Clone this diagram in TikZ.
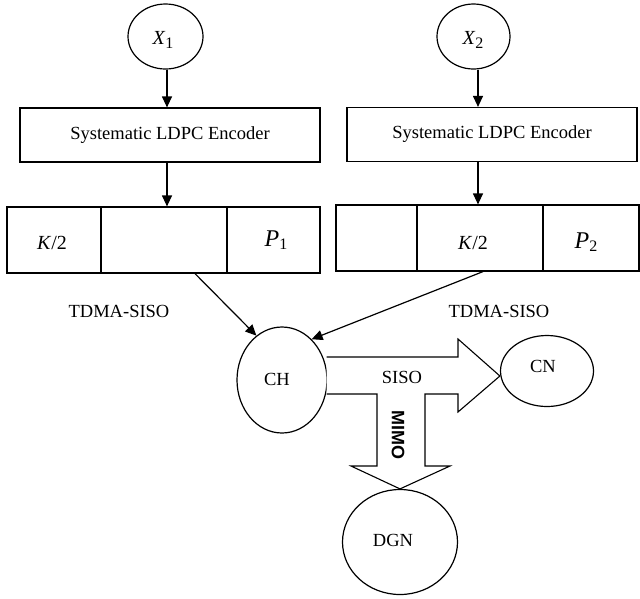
\documentclass[tikz,border=0pt]{standalone}
\usepackage{fontspec}
\setmainfont{Liberation Serif}
\newfontfamily\mimofont{Liberation Sans}
\usetikzlibrary{arrows.meta,shapes.geometric}
\newcommand\lowsub[1]{\raisebox{-0.4ex}{\fontsize{16}{18}\selectfont #1}}
\begin{document}
\begin{tikzpicture}[x=1pt,y=-1pt,
  line width=1.2pt,
  every node/.style={font=\fontsize{18.5}{22}\selectfont},
  oval/.style={draw, ellipse, inner sep=0pt},
  encbox/.style={draw, rectangle, minimum width=300pt, minimum height=54pt, inner sep=0pt},
  cell/.style={draw, rectangle, minimum height=66pt, inner sep=0pt},
  arr/.style={-{Triangle[length=11pt,width=10pt]}},
  blockarrow/.style={draw, line width=1.1pt, line join=miter, fill=white},
  plain/.style={inner sep=0pt}]
\useasboundingbox (0,0) rectangle (640,598);

% sources
\node[oval, minimum width=75pt, minimum height=65pt] (X1) at (165.5,36.5) {};
\node[plain] (X1t) at (163,40) {{\fontsize{20}{24}\selectfont\textit{X}}\lowsub{1}};
\node[oval, minimum width=73pt, minimum height=65pt] (X2) at (473.5,36.5) {};
\node[plain] (X2t) at (473,40) {{\fontsize{20}{24}\selectfont\textit{X}}\lowsub{2}};

% encoders
\node[encbox] (enc1) at (170,135) {Systematic LDPC Encoder};
\node[encbox, minimum width=290pt] (enc2) at (492,134.5) {Systematic LDPC Encoder};

% frames
\node[cell, minimum width=94pt] (f1a) at (54,240) {};
\node[cell, minimum width=126pt] (f1b) at (164,240) {};
\node[cell, minimum width=93pt] (f1c) at (273.5,240) {};
\node[plain] (k1) at (52,243) {{\fontsize{20}{24}\selectfont\textit{K}/2}};
\node[plain] (p1) at (276,240) {{\fontsize{24}{28}\selectfont\textit{P}}\lowsub{1}};

\node[cell, minimum width=81pt] (f2a) at (376.5,238) {};
\node[cell, minimum width=126pt] (f2b) at (480,238) {};
\node[cell, minimum width=96pt] (f2c) at (591,238) {};
\node[plain] (k2) at (473,243) {{\fontsize{20}{24}\selectfont\textit{K}/2}};
\node[plain] (p2) at (586,242) {{\fontsize{24}{28}\selectfont\textit{P}}\lowsub{2}};

% vertical arrows
\draw[arr] ([xshift=1.5pt]X1.south) -- ([xshift=1.5pt]X1.south |- enc1.north);
\draw[arr] ([xshift=1.5pt]X1.south |- enc1.south) -- ([xshift=1.5pt]X1.south |- f1b.north);
\draw[arr] ([xshift=4.5pt]X2.south) -- ([xshift=4.5pt]X2.south |- enc2.north);
\draw[arr] ([xshift=4.5pt]X2.south |- enc2.south) -- ([xshift=4.5pt]X2.south |- f2b.north);

% labels
\node (tdma1) at (119,311) {TDMA-SISO};
\node (tdma2) at (499,311) {TDMA-SISO};

% lower nodes
\node[oval, minimum width=90pt, minimum height=106pt] (CH) at (282,380) {};
\node[plain] (CHt) at (277,379) {CH};
\node[oval, minimum width=93pt, minimum height=71pt] (CN) at (547,371) {};
\node[plain] (CNt) at (543,366) {CN};
\node[oval, minimum width=115pt, minimum height=105pt] (DGN) at (400,542) {};
\node[plain] (DGNt) at (393,540) {DGN};

% diagonal connectors
\coordinate (s1) at ([xshift=31pt]f1b.south);
\coordinate (s2) at ([xshift=3pt]f2b.south);
\draw[arr] (s1) -- (CH.120);
\draw[arr] (s2) -- (CH.54);

% block arrows
\draw[blockarrow] (CH.east |- 0,357) ++(-1,0) -- (458,357) -- (458,339) -- (CN.west |- 0,376)
  -- (458,412) -- (458,394) -- (425,394) -- (425,466) -- (450,466) -- (DGN.north)
  -- (351,466) -- (377,466) -- (377,394) -- ([xshift=-1pt]CH.east |- 0,394);
\node[plain] (siso) at (402,377) {SISO};
\node[plain, rotate=-90, font=\mimofont\bfseries\fontsize{18}{20}\selectfont] (mimo) at (398,435) {MIMO};
\end{tikzpicture}
\end{document}
